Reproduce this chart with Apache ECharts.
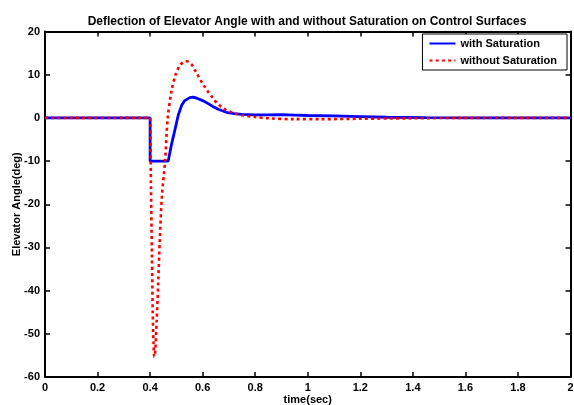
<!DOCTYPE html>
<html>
<head>
<meta charset="utf-8">
<script src="https://cdn.jsdelivr.net/npm/echarts@6/dist/echarts.min.js"></script>
<style>
  html, body { margin: 0; padding: 0; background: #fff; }
  #chart { width: 574px; height: 405px; }
</style>
</head>
<body>
<div id="chart"></div>
<script>
// Elevator deflection response (deg) over time (s)
const withSatTime = [0, 0.4, 0.4, 0.469, 0.482, 0.494, 0.507, 0.52, 0.532, 0.551, 0.564, 0.58, 0.6, 0.621, 0.64, 0.66, 0.672, 0.69, 0.72, 0.75, 0.8, 0.85, 0.9, 0.95, 1.0, 1.1, 1.2, 1.3, 1.45, 1.6, 2.0];
const withSatValue = [0, 0, -10, -10, -6, -2.9, 0.6, 2.9, 4.0, 4.7, 4.8, 4.5, 4.0, 3.3, 2.6, 2.0, 1.7, 1.3, 1.0, 0.8, 0.7, 0.7, 0.75, 0.65, 0.55, 0.45, 0.3, 0.15, 0.05, 0, 0];

const noSatTime = [0, 0.4, 0.403, 0.407, 0.41, 0.413, 0.416, 0.419, 0.425, 0.431, 0.437, 0.445, 0.457, 0.467, 0.482, 0.498, 0.51, 0.52, 0.53, 0.54, 0.55, 0.56, 0.571, 0.584, 0.596, 0.609, 0.621, 0.634, 0.646, 0.66, 0.672, 0.69, 0.71, 0.73, 0.75, 0.8, 0.85, 0.95, 1.05, 1.2, 1.4, 1.6, 2.0];
const noSatValue = [0, 0, -15, -32, -45, -52, -55.3, -54.5, -47, -38, -28, -18, -10, 0, 6.4, 10.2, 11.8, 12.6, 13.0, 13.1, 12.8, 12.2, 11.0, 9.6, 8.3, 7.1, 6.0, 5.0, 4.0, 3.2, 2.5, 1.8, 1.3, 0.9, 0.6, 0.2, -0.1, -0.3, -0.3, -0.2, -0.1, 0, 0];

const xTickLabels = ['0', '0.2', '0.4', '0.6', '0.8', '1', '1.2', '1.4', '1.6', '1.8', '2'];
const yTickLabels = ['-60', '-50', '-40', '-30', '-20', '-10', '0', '10', '20'];

const zip = (xs, ys) => xs.map((x, i) => [x, ys[i]]);

const font = 'Liberation Sans, Arial, sans-serif';
const labelStyle = { color: '#000', fontFamily: font, fontWeight: 'bold', fontSize: 11 };
const tickStyle = { show: true, inside: true, length: 5, lineStyle: { color: '#000', width: 1.5 } };
const lineStyle = { color: '#000', width: 2 };

const chart = echarts.init(document.getElementById('chart'));
chart.setOption({
  animation: false,
  backgroundColor: '#fff',
  title: {
    text: 'Deflection of Elevator Angle with and without Saturation on Control Surfaces',
    left: 302, top: 11, textAlign: 'center',
    textStyle: { color: '#000', fontFamily: font, fontWeight: 'bold', fontSize: 12 }
  },
  legend: {
    orient: 'vertical', right: 7, top: 34,
    itemWidth: 26, itemHeight: 10, itemGap: 6,
    borderColor: '#000', borderWidth: 1, backgroundColor: '#fff',
    padding: [4, 10, 4, 6],
    itemStyle: { opacity: 0 },
    textStyle: { color: '#000', fontFamily: font, fontWeight: 'bold', fontSize: 11 },
    data: ['with Saturation', 'without Saturation']
  },
  grid: { left: 45, right: 3.5, top: 31.5, bottom: 28, containLabel: false, outerBoundsMode: 'none' },
  xAxis: [{
    type: 'value', min: 0, max: 2, interval: 0.2,
    name: 'time(sec)', nameLocation: 'middle', nameGap: 17, nameMoveOverlap: false,
    nameTextStyle: labelStyle,
    axisLine: { show: true, onZero: false, lineStyle },
    axisTick: tickStyle,
    axisLabel: Object.assign({ margin: 5, formatter: (v) => xTickLabels[Math.round(v / 0.2)] }, labelStyle),
    splitLine: { show: false }
  }, {
    type: 'value', min: 0, max: 2, interval: 0.2, position: 'top',
    axisLine: { show: true, onZero: false, lineStyle },
    axisTick: tickStyle, axisLabel: { show: false }, splitLine: { show: false }
  }],
  yAxis: [{
    type: 'value', min: -60, max: 20, interval: 10,
    name: 'Elevator Angle(deg)', nameLocation: 'middle', nameGap: 23, nameMoveOverlap: false,
    nameTextStyle: labelStyle,
    axisLine: { show: true, onZero: false, lineStyle },
    axisTick: tickStyle,
    axisLabel: Object.assign({ margin: 5, formatter: (v) => yTickLabels[Math.round((v + 60) / 10)] }, labelStyle),
    splitLine: { show: false }
  }, {
    type: 'value', min: -60, max: 20, interval: 10, position: 'right',
    axisLine: { show: true, onZero: false, lineStyle },
    axisTick: tickStyle, axisLabel: { show: false }, splitLine: { show: false }
  }],
  series: [{
    name: 'with Saturation', type: 'line', symbol: 'none',
    data: zip(withSatTime, withSatValue),
    lineStyle: { color: '#0000ff', width: 2.8 },
    itemStyle: { color: '#0000ff' }
  }, {
    name: 'without Saturation', type: 'line', symbol: 'none', smooth: 0.3,
    data: zip(noSatTime, noSatValue),
    lineStyle: { color: '#ff0000', width: 2.6, type: [3, 3.2] },
    itemStyle: { color: '#ff0000' }
  }]
});
</script>
</body>
</html>
